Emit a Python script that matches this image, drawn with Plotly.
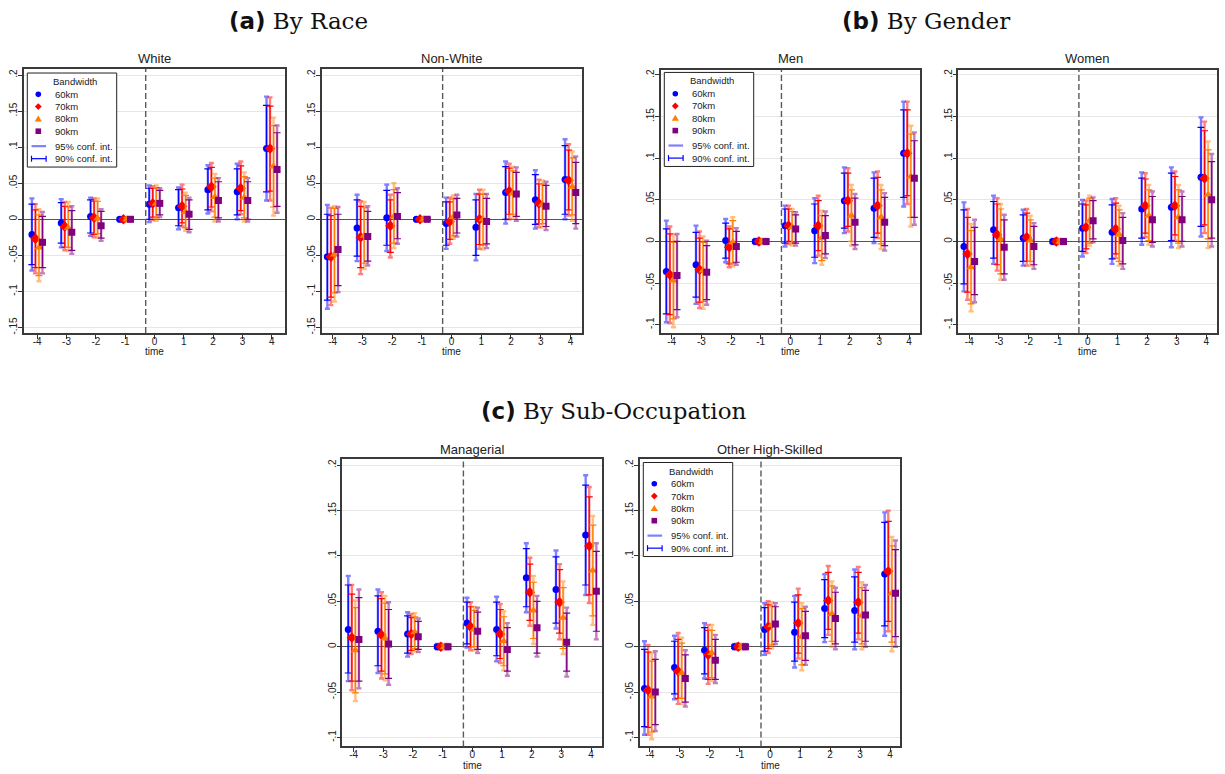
import plotly.graph_objects as go

W, H = 1225, 774

# ---------------- data ----------------
TIME = [-4, -3, -2, -1, 0, 1, 2, 3, 4]
BANDWIDTHS = ["60km", "70km", "80km", "90km"]

# White
white_b = [[-0.021, -0.005, 0.004, 0, 0.021, 0.016, 0.041, 0.038, 0.098],
           [-0.027, -0.010, 0.002, 0, 0.022, 0.018, 0.045, 0.043, 0.098],
           [-0.039, -0.012, 0.001, 0, 0.022, 0.010, 0.031, 0.030, 0.073],
           [-0.032, -0.018, -0.009, 0, 0.022, 0.007, 0.026, 0.026, 0.069]]
white_lo90 = [[-0.063, -0.033, -0.019, -0.002, 0.000, -0.009, 0.013, 0.006, 0.038],
              [-0.067, -0.039, -0.021, -0.002, 0.003, -0.005, 0.017, 0.012, 0.039],
              [-0.078, -0.039, -0.020, -0.002, 0.002, -0.012, 0.003, 0.002, 0.017],
              [-0.067, -0.043, -0.026, -0.002, 0.006, -0.014, 0.002, 0.000, 0.018]]
white_hi90 = [[0.021, 0.023, 0.027, 0.002, 0.043, 0.041, 0.070, 0.070, 0.158],
              [0.013, 0.018, 0.025, 0.002, 0.043, 0.042, 0.072, 0.074, 0.157],
              [0.006, 0.017, 0.025, 0.002, 0.044, 0.033, 0.057, 0.059, 0.130],
              [0.004, 0.012, 0.011, 0.002, 0.040, 0.027, 0.052, 0.052, 0.120]]
white_lo95 = [[-0.071, -0.039, -0.023, -0.003, -0.004, -0.014, 0.008, 0.000, 0.026],
              [-0.075, -0.043, -0.025, -0.003, -0.001, -0.010, 0.011, 0.007, 0.026],
              [-0.086, -0.044, -0.025, -0.003, -0.002, -0.016, -0.003, -0.003, 0.005],
              [-0.075, -0.048, -0.030, -0.003, 0.003, -0.018, -0.003, -0.003, 0.009]]
white_hi95 = [[0.029, 0.028, 0.030, 0.003, 0.047, 0.044, 0.075, 0.077, 0.170],
              [0.021, 0.024, 0.029, 0.003, 0.046, 0.048, 0.078, 0.080, 0.169],
              [0.014, 0.024, 0.029, 0.003, 0.047, 0.037, 0.063, 0.065, 0.141],
              [0.010, 0.018, 0.014, 0.003, 0.043, 0.030, 0.057, 0.057, 0.130]]

# Non-White
nonwhite_b = [[-0.052, -0.012, 0.002, 0, -0.006, -0.011, 0.037, 0.027, 0.055],
              [-0.052, -0.025, -0.009, 0, -0.003, 0.000, 0.039, 0.022, 0.054],
              [-0.049, -0.023, 0.004, 0, 0.003, 0.000, 0.036, 0.021, 0.045],
              [-0.042, -0.024, 0.004, 0, 0.006, -0.003, 0.035, 0.018, 0.037]]
nonwhite_lo90 = [[-0.112, -0.051, -0.036, -0.002, -0.036, -0.050, 0.000, -0.007, 0.007],
                 [-0.108, -0.067, -0.046, -0.002, -0.028, -0.035, 0.007, -0.006, 0.013],
                 [-0.102, -0.061, -0.033, -0.002, -0.023, -0.036, 0.007, -0.006, 0.006],
                 [-0.092, -0.058, -0.027, -0.002, -0.019, -0.034, 0.004, -0.010, -0.006]]
nonwhite_hi90 = [[0.007, 0.027, 0.040, 0.002, 0.024, 0.027, 0.073, 0.062, 0.102],
                 [0.005, 0.018, 0.027, 0.002, 0.024, 0.035, 0.071, 0.049, 0.096],
                 [0.015, 0.016, 0.041, 0.002, 0.028, 0.035, 0.067, 0.049, 0.085],
                 [0.007, 0.011, 0.037, 0.002, 0.029, 0.029, 0.065, 0.047, 0.079]]
nonwhite_lo95 = [[-0.124, -0.058, -0.044, -0.003, -0.041, -0.057, -0.006, -0.013, 0.000],
                 [-0.119, -0.076, -0.053, -0.003, -0.034, -0.041, 0.000, -0.011, 0.005],
                 [-0.114, -0.069, -0.040, -0.003, -0.027, -0.042, 0.001, -0.011, -0.002],
                 [-0.101, -0.064, -0.034, -0.003, -0.024, -0.040, -0.002, -0.015, -0.013]]
nonwhite_hi95 = [[0.020, 0.034, 0.048, 0.003, 0.030, 0.035, 0.080, 0.068, 0.111],
                 [0.016, 0.025, 0.034, 0.003, 0.030, 0.041, 0.077, 0.055, 0.104],
                 [0.018, 0.024, 0.050, 0.003, 0.033, 0.041, 0.073, 0.054, 0.094],
                 [0.017, 0.018, 0.043, 0.003, 0.034, 0.035, 0.072, 0.052, 0.087]]

# Men
men_b = [[-0.036, -0.028, 0.001, 0, 0.019, 0.013, 0.049, 0.040, 0.106],
         [-0.040, -0.034, -0.007, 0, 0.019, 0.019, 0.049, 0.043, 0.106],
         [-0.047, -0.035, -0.001, 0, 0.017, 0.004, 0.031, 0.029, 0.078],
         [-0.041, -0.037, -0.006, 0, 0.015, 0.007, 0.023, 0.023, 0.076]]
men_lo90 = [[-0.087, -0.067, -0.020, -0.002, -0.002, -0.019, 0.016, 0.005, 0.053],
            [-0.088, -0.073, -0.027, -0.002, 0.000, -0.011, 0.018, 0.010, 0.055],
            [-0.093, -0.072, -0.026, -0.002, -0.002, -0.023, 0.000, -0.003, 0.029],
            [-0.082, -0.070, -0.025, -0.002, -0.002, -0.015, -0.004, -0.005, 0.029]]
men_hi90 = [[0.015, 0.011, 0.022, 0.002, 0.039, 0.045, 0.082, 0.076, 0.158],
            [0.009, 0.004, 0.015, 0.002, 0.039, 0.049, 0.082, 0.077, 0.158],
            [-0.001, -0.001, 0.025, 0.002, 0.036, 0.031, 0.062, 0.062, 0.129],
            [0.000, -0.005, 0.012, 0.002, 0.032, 0.031, 0.052, 0.053, 0.121]]
men_lo95 = [[-0.097, -0.075, -0.025, -0.003, -0.006, -0.026, 0.010, -0.002, 0.042],
            [-0.098, -0.080, -0.031, -0.003, -0.003, -0.017, 0.012, 0.004, 0.045],
            [-0.103, -0.081, -0.030, -0.003, -0.005, -0.028, -0.005, -0.009, 0.018],
            [-0.091, -0.076, -0.028, -0.003, -0.005, -0.020, -0.009, -0.011, 0.020]]
men_hi95 = [[0.025, 0.019, 0.027, 0.003, 0.043, 0.052, 0.089, 0.083, 0.168],
            [0.018, 0.012, 0.018, 0.003, 0.043, 0.055, 0.088, 0.084, 0.168],
            [0.008, 0.006, 0.029, 0.003, 0.039, 0.037, 0.068, 0.068, 0.139],
            [0.009, 0.001, 0.016, 0.003, 0.035, 0.036, 0.057, 0.058, 0.131]]

# Women
women_b = [[-0.006, 0.014, 0.004, 0, 0.016, 0.011, 0.039, 0.041, 0.077],
           [-0.015, 0.008, 0.005, 0, 0.017, 0.015, 0.043, 0.043, 0.076],
           [-0.031, 0.003, 0.001, 0, 0.025, 0.008, 0.031, 0.029, 0.056],
           [-0.024, -0.007, -0.006, 0, 0.025, 0.001, 0.026, 0.026, 0.050]]
women_lo90 = [[-0.051, -0.020, -0.024, -0.002, -0.012, -0.021, 0.004, 0.001, 0.018],
              [-0.061, -0.028, -0.024, -0.002, -0.009, -0.015, 0.010, 0.008, 0.020],
              [-0.075, -0.039, -0.024, -0.002, -0.002, -0.024, 0.001, -0.002, 0.003],
              [-0.064, -0.039, -0.028, -0.002, 0.003, -0.027, -0.001, 0.000, 0.004]]
women_hi90 = [[0.038, 0.048, 0.032, 0.002, 0.045, 0.044, 0.076, 0.082, 0.137],
              [0.029, 0.045, 0.034, 0.002, 0.044, 0.046, 0.075, 0.078, 0.133],
              [0.013, 0.039, 0.026, 0.002, 0.052, 0.038, 0.062, 0.062, 0.110],
              [0.017, 0.026, 0.018, 0.002, 0.049, 0.029, 0.054, 0.054, 0.096]]
women_lo95 = [[-0.060, -0.027, -0.029, -0.003, -0.018, -0.027, -0.004, -0.007, 0.006],
              [-0.070, -0.035, -0.029, -0.003, -0.014, -0.020, 0.005, 0.001, 0.010],
              [-0.084, -0.046, -0.029, -0.003, -0.005, -0.029, -0.004, -0.008, -0.008],
              [-0.073, -0.046, -0.033, -0.003, -0.001, -0.033, -0.006, -0.006, -0.006]]
women_hi95 = [[0.047, 0.055, 0.038, 0.003, 0.050, 0.051, 0.083, 0.089, 0.149],
              [0.039, 0.052, 0.039, 0.003, 0.049, 0.052, 0.082, 0.084, 0.144],
              [0.021, 0.045, 0.031, 0.003, 0.055, 0.043, 0.068, 0.068, 0.120],
              [0.026, 0.032, 0.022, 0.003, 0.053, 0.034, 0.060, 0.060, 0.105]]

# Managerial
manag_b = [[0.019, 0.017, 0.014, 0, 0.026, 0.019, 0.076, 0.063, 0.123],
           [0.010, 0.013, 0.014, 0, 0.022, 0.014, 0.060, 0.049, 0.111],
           [-0.004, 0.009, 0.016, 0, 0.019, 0.006, 0.040, 0.032, 0.084],
           [0.008, 0.003, 0.011, 0, 0.017, -0.003, 0.021, 0.005, 0.061]]
manag_lo90 = [[-0.029, -0.021, -0.007, -0.002, 0.003, -0.010, 0.044, 0.026, 0.068],
              [-0.038, -0.027, -0.004, -0.002, 0.000, -0.013, 0.029, 0.015, 0.057],
              [-0.051, -0.030, -0.002, -0.002, 0.000, -0.021, 0.009, -0.002, 0.034],
              [-0.038, -0.035, -0.003, -0.002, -0.003, -0.027, -0.007, -0.027, 0.017]]
manag_hi90 = [[0.068, 0.056, 0.034, 0.002, 0.049, 0.049, 0.108, 0.099, 0.178],
              [0.058, 0.053, 0.032, 0.002, 0.044, 0.041, 0.091, 0.085, 0.165],
              [0.043, 0.048, 0.033, 0.002, 0.040, 0.033, 0.071, 0.065, 0.134],
              [0.054, 0.041, 0.028, 0.002, 0.038, 0.021, 0.050, 0.037, 0.105]]
manag_lo95 = [[-0.038, -0.029, -0.011, -0.003, -0.001, -0.016, 0.038, 0.020, 0.057],
              [-0.048, -0.035, -0.008, -0.003, -0.004, -0.018, 0.023, 0.008, 0.048],
              [-0.060, -0.037, -0.005, -0.003, -0.004, -0.026, 0.003, -0.008, 0.024],
              [-0.046, -0.042, -0.006, -0.003, -0.007, -0.032, -0.011, -0.033, 0.008]]
manag_hi95 = [[0.078, 0.063, 0.038, 0.003, 0.054, 0.055, 0.114, 0.106, 0.189],
              [0.068, 0.060, 0.036, 0.003, 0.049, 0.047, 0.098, 0.091, 0.176],
              [0.051, 0.056, 0.037, 0.003, 0.044, 0.039, 0.078, 0.072, 0.144],
              [0.063, 0.049, 0.031, 0.003, 0.043, 0.026, 0.056, 0.043, 0.114]]

# Other High-Skilled
ohs_b = [[-0.046, -0.023, -0.004, 0, 0.019, 0.016, 0.042, 0.040, 0.080],
         [-0.048, -0.027, -0.009, 0, 0.022, 0.026, 0.051, 0.049, 0.083],
         [-0.055, -0.029, -0.007, 0, 0.024, 0.011, 0.036, 0.034, 0.059],
         [-0.050, -0.035, -0.015, 0, 0.025, 0.012, 0.031, 0.035, 0.059]]
ohs_lo90 = [[-0.088, -0.052, -0.030, -0.002, -0.005, -0.016, 0.010, 0.005, 0.023],
            [-0.089, -0.057, -0.036, -0.002, -0.002, -0.007, 0.019, 0.015, 0.028],
            [-0.094, -0.057, -0.034, -0.002, 0.002, -0.020, 0.006, 0.003, 0.005],
            [-0.086, -0.061, -0.036, -0.002, 0.006, -0.015, 0.003, 0.006, 0.011]]
ohs_hi90 = [[-0.003, 0.006, 0.021, 0.002, 0.043, 0.049, 0.074, 0.077, 0.137],
            [-0.006, 0.008, 0.018, 0.002, 0.046, 0.057, 0.082, 0.082, 0.138],
            [-0.016, 0.004, 0.018, 0.002, 0.045, 0.042, 0.067, 0.065, 0.111],
            [-0.014, -0.009, 0.008, 0.002, 0.044, 0.039, 0.060, 0.062, 0.107]]
ohs_lo95 = [[-0.097, -0.058, -0.035, -0.003, -0.009, -0.023, 0.005, -0.003, 0.012],
            [-0.097, -0.063, -0.041, -0.003, -0.007, -0.013, 0.013, 0.008, 0.017],
            [-0.102, -0.063, -0.038, -0.003, -0.002, -0.026, 0.000, -0.003, -0.005],
            [-0.093, -0.066, -0.040, -0.003, 0.003, -0.020, -0.003, 0.000, 0.000]]
ohs_hi95 = [[0.006, 0.012, 0.026, 0.003, 0.048, 0.056, 0.080, 0.085, 0.148],
            [0.002, 0.015, 0.024, 0.003, 0.050, 0.064, 0.089, 0.088, 0.150],
            [-0.007, 0.010, 0.024, 0.003, 0.049, 0.048, 0.072, 0.071, 0.121],
            [-0.005, -0.004, 0.013, 0.003, 0.048, 0.044, 0.065, 0.068, 0.117]]

TICKS_WIDE = [-0.15, -0.1, -0.05, 0, 0.05, 0.1, 0.15, 0.2]
LABELS_WIDE = ["-.15", "-.1", "-.05", "0", ".05", ".1", ".15", ".2"]
TICKS_NARROW = [-0.1, -0.05, 0, 0.05, 0.1, 0.15, 0.2]
LABELS_NARROW = ["-.1", "-.05", "0", ".05", ".1", ".15", ".2"]
X_LABELS = ["-4", "-3", "-2", "-1", "0", "1", "2", "3", "4"]
LEGEND_ITEMS = ["60km", "70km", "80km", "90km", "95% conf. int.", "90% conf. int."]

# ---------------- style ----------------
COLORS = ["#0000ff", "#ff0000", "#ff7f00", "#800080"]
FADED = ["rgba(0,0,255,0.5)", "rgba(255,0,0,0.5)", "rgba(255,127,0,0.5)", "rgba(128,0,128,0.5)"]
SYMBOLS = ["circle", "diamond", "triangle-up", "square"]
SIZES = [7, 8, 8, 7]
OFFSETS = [-0.18, -0.06, 0.06, 0.18]
FONT = "Liberation Sans, Arial, sans-serif"
TXT = "#222222"

# (title, data, x-domain px, y-domain px, x-range, y-range, ticks, labels, legend top-left px, title y px, "time" y px)
PANELS = [
    ("White", (white_b, white_lo90, white_hi90, white_lo95, white_hi95),
     (24, 285), (68.3, 333.3), (-4.45, 4.45), (-0.1577, 0.2083), TICKS_WIDE, LABELS_WIDE, (27.3, 72.3), 58, 352),
    ("Non-White", (nonwhite_b, nonwhite_lo90, nonwhite_hi90, nonwhite_lo95, nonwhite_hi95),
     (321.7, 581.7), (68.3, 333.3), (-4.37, 4.38), (-0.1577, 0.2083), TICKS_WIDE, LABELS_WIDE, None, 58, 352),
    ("Men", (men_b, men_lo90, men_hi90, men_lo95, men_hi95),
     (660.7, 920), (69, 333.3), (-4.37, 4.37), (-0.110, 0.2063), TICKS_NARROW, LABELS_NARROW, (664.3, 71.7), 58, 352),
    ("Women", (women_b, women_lo90, women_hi90, women_lo95, women_hi95),
     (958.3, 1217.3), (69, 333.3), (-4.37, 4.37), (-0.110, 0.2063), TICKS_NARROW, LABELS_NARROW, None, 58, 352),
    ("Managerial", (manag_b, manag_lo90, manag_hi90, manag_lo95, manag_hi95),
     (342.3, 602.3), (460, 748.3), (-4.38, 4.38), (-0.1099, 0.2066), TICKS_NARROW, LABELS_NARROW, None, 450.5, 767),
    ("Other High-Skilled", (ohs_b, ohs_lo90, ohs_hi90, ohs_lo95, ohs_hi95),
     (640, 900), (460, 748.3), (-4.33, 4.33), (-0.1099, 0.2066), TICKS_NARROW, LABELS_NARROW, (643.3, 463.3), 450.5, 767),
]


def px(x):
    return x / W


def py(y):
    return 1 - y / H


fig = go.Figure()
shapes = []
annotations = []

for i, (title, data, xd, yd, xr, yr, tv, tt, leg, ty, timey) in enumerate(PANELS):
    n = "" if i == 0 else str(i + 1)
    xa, ya = "x" + n, "y" + n
    b_all, lo90_all, hi90_all, lo95_all, hi95_all = data
    for k in range(4):
        xs = [t + OFFSETS[k] for t in TIME]
        b, lo90, hi90, lo95, hi95 = b_all[k], lo90_all[k], hi90_all[k], lo95_all[k], hi95_all[k]
        fig.add_trace(go.Scatter(
            x=xs, y=b, mode="markers", xaxis=xa, yaxis=ya, showlegend=False, hoverinfo="skip",
            marker=dict(size=1, color="rgba(0,0,0,0)"),
            error_y=dict(type="data", symmetric=False,
                         array=[h - v for h, v in zip(hi95, b)],
                         arrayminus=[v - l for v, l in zip(b, lo95)],
                         color=FADED[k], thickness=2.4, width=2.5)))
        fig.add_trace(go.Scatter(
            x=xs, y=b, mode="markers", xaxis=xa, yaxis=ya, showlegend=False,
            name=BANDWIDTHS[k],
            marker=dict(size=SIZES[k], color=COLORS[k], symbol=SYMBOLS[k], line=dict(width=0)),
            error_y=dict(type="data", symmetric=False,
                         array=[h - v for h, v in zip(hi90, b)],
                         arrayminus=[v - l for v, l in zip(b, lo90)],
                         color=COLORS[k], thickness=1.2, width=3.5)))

    common = dict(showline=True, mirror=True, linecolor="#3a3a3a", linewidth=1.6,
                  ticks="outside", ticklen=4, tickcolor="#333333", tickwidth=1,
                  tickfont=dict(family=FONT, size=10, color=TXT))
    fig.layout["xaxis" + n] = dict(
        domain=[px(xd[0]), px(xd[1])], range=list(xr), anchor=ya,
        tickmode="array", tickvals=TIME, ticktext=X_LABELS, ticklabelstandoff=-6,
        showgrid=False, zeroline=False, **common)
    fig.layout["yaxis" + n] = dict(
        domain=[py(yd[1]), py(yd[0])], range=list(yr), anchor=xa,
        tickmode="array", tickvals=tv, ticktext=tt, tickangle=-90, ticklabelstandoff=-3,
        showgrid=True, gridcolor="#e6e6e6", gridwidth=1.3,
        zeroline=True, zerolinecolor="#555555", zerolinewidth=1.3, **common)

    # dashed vertical reference line
    shapes.append(dict(type="line", xref=xa, yref=ya + " domain", x0=-0.3, x1=-0.3, y0=0, y1=1,
                       line=dict(color="#5a5a5a", width=1.4, dash="6px,3px"), layer="above"))

    cx = px((xd[0] + xd[1]) / 2)
    annotations.append(dict(text=title, x=cx, y=py(ty), xref="paper", yref="paper",
                            showarrow=False, xanchor="center", yanchor="middle",
                            font=dict(family=FONT, size=13, color=TXT)))
    annotations.append(dict(text="time", x=cx, y=py(timey), xref="paper", yref="paper",
                            showarrow=False, xanchor="center", yanchor="middle",
                            font=dict(family=FONT, size=10, color=TXT)))

    # manual legend
    if leg is not None:
        L, T = leg
        shapes.append(dict(type="rect", xref="paper", yref="paper",
                           x0=px(L), x1=px(L + 89.4), y0=py(T + 94.4), y1=py(T),
                           line=dict(color="#222222", width=1), fillcolor="white", layer="above"))
        annotations.append(dict(text="Bandwidth", x=px(L + 47.7), y=py(T + 8.6), xref="paper", yref="paper",
                                showarrow=False, xanchor="center", yanchor="middle",
                                font=dict(family=FONT, size=9.5, color=TXT)))
        rows = [21.4, 33.7, 46.0, 58.4, 73.4, 86.0]
        sx = L + 11
        for r, label in zip(rows, LEGEND_ITEMS):
            annotations.append(dict(text=label, x=px(L + 25.4), y=py(T + r), xref="paper", yref="paper",
                                    showarrow=False, xanchor="left", yanchor="middle",
                                    font=dict(family=FONT, size=9.5, color=TXT)))
        yy = T + rows[0]
        shapes.append(dict(type="circle", xref="paper", yref="paper", x0=px(sx - 2.8), x1=px(sx + 2.8),
                           y0=py(yy + 2.8), y1=py(yy - 2.8), fillcolor=COLORS[0], line=dict(width=0), layer="above"))
        yy = T + rows[1]
        d = 3.4
        shapes.append(dict(type="path", xref="paper", yref="paper",
                           path=f"M {px(sx)},{py(yy - d)} L {px(sx + d)},{py(yy)} L {px(sx)},{py(yy + d)} L {px(sx - d)},{py(yy)} Z",
                           fillcolor=COLORS[1], line=dict(width=0), layer="above"))
        yy = T + rows[2]
        shapes.append(dict(type="path", xref="paper", yref="paper",
                           path=f"M {px(sx)},{py(yy - 3.4)} L {px(sx + 3.6)},{py(yy + 2.6)} L {px(sx - 3.6)},{py(yy + 2.6)} Z",
                           fillcolor=COLORS[2], line=dict(width=0), layer="above"))
        yy = T + rows[3]
        shapes.append(dict(type="rect", xref="paper", yref="paper", x0=px(sx - 2.8), x1=px(sx + 2.8),
                           y0=py(yy + 2.8), y1=py(yy - 2.8), fillcolor=COLORS[3], line=dict(width=0), layer="above"))
        yy = T + rows[4]
        shapes.append(dict(type="line", xref="paper", yref="paper", x0=px(L + 4.2), x1=px(L + 18.8),
                           y0=py(yy), y1=py(yy), line=dict(color=FADED[0], width=2.2), layer="above"))
        yy = T + rows[5]
        shapes.append(dict(type="line", xref="paper", yref="paper", x0=px(L + 4.2), x1=px(L + 18.8),
                           y0=py(yy), y1=py(yy), line=dict(color=COLORS[0], width=1.2), layer="above"))
        for ex in (L + 4.2, L + 18.8):
            shapes.append(dict(type="line", xref="paper", yref="paper", x0=px(ex), x1=px(ex),
                               y0=py(yy - 3), y1=py(yy + 3), line=dict(color=COLORS[0], width=1.2), layer="above"))

# section titles
SECTION_TITLES = [("(a)", "By Race", 298, 20), ("(b)", "By Gender", 926, 20), ("(c)", "By Sub-Occupation", 614, 412)]
for tag, txt, x, y in SECTION_TITLES:
    annotations.append(dict(
        text=f'<span style="font-family:DejaVu Sans"><b>{tag}</b></span> {txt}',
        x=px(x), y=py(y), xref="paper", yref="paper", showarrow=False,
        xanchor="center", yanchor="middle",
        font=dict(family="DejaVu Serif, serif", size=23, color="#111111")))

fig.update_layout(
    width=W, height=H, margin=dict(l=0, r=0, t=0, b=0),
    paper_bgcolor="white", plot_bgcolor="white",
    showlegend=False, shapes=shapes, annotations=annotations,
    font=dict(family=FONT, color=TXT),
)

fig.write_html("out.html")
